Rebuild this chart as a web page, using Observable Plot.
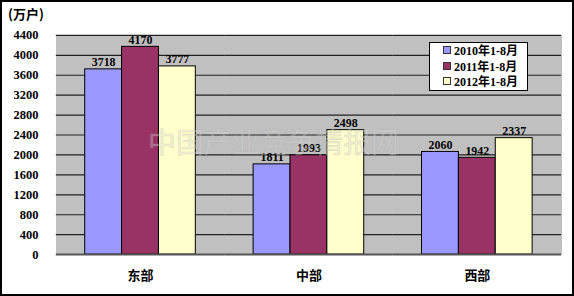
<!DOCTYPE html>
<html><head><meta charset="utf-8">
<script src="https://cdn.jsdelivr.net/npm/d3@7"></script>
<script src="https://cdn.jsdelivr.net/npm/@observablehq/plot@0.6"></script>
<style>
html,body{margin:0;padding:0;background:#fff;}
#wrap{position:relative;width:574px;height:296px;box-sizing:border-box;border:2px solid #000;overflow:hidden;}
#chart{position:absolute;left:-2px;top:-2px;}
#unit{position:absolute;left:6px;top:2px;font:bold 13px "Noto Sans CJK SC",sans-serif;color:#000;}
#legend{position:absolute;left:427px;top:40px;width:99px;height:49px;background:#fff;border:1px solid #000;box-sizing:border-box;padding:1px 0 0 13px;font:bold 12px "Liberation Serif","Noto Sans CJK SC",serif;}
#legend div{height:15.5px;line-height:15.5px;white-space:nowrap;}
#legend span{display:inline-block;width:6px;height:6px;border:1px solid #333;margin-right:3px;vertical-align:1px;}
</style></head>
<body>
<div id="wrap"><div id="chart"></div><div id="unit">(万户)</div><div id="legend"></div></div>
<script>
const regions = ["东部", "中部", "西部"];
const seriesNames = ["2010年1-8月", "2011年1-8月", "2012年1-8月"];
const v2010 = [3718, 1811, 2060];
const v2011 = [4170, 1993, 1942];
const v2012 = [3777, 2498, 2337];
const colors = ["#9999FF", "#993366", "#FFFFCC"];
const yTicks = [0, 400, 800, 1200, 1600, 2000, 2400, 2800, 3200, 3600, 4000, 4400];
const watermark = "中国产业竞争情报网";

const seriesVals = [v2010, v2011, v2012];
const data = [];
regions.forEach((r, i) => seriesNames.forEach((s, j) => data.push({region: r, series: s, value: seriesVals[j][i]})));

const numFont = "Liberation Serif";
const chart = Plot.plot({
  width: 574, height: 296,
  marginLeft: 55, marginRight: 11, marginTop: 35, marginBottom: 41,
  style: {background: "transparent", fontFamily: numFont},
  fx: {domain: regions, padding: 0, label: null, axis: null},
  x: {domain: seriesNames, paddingOuter: 0.74, paddingInner: 0, axis: null},
  y: {domain: [0, 4400], ticks: yTicks, label: null, axis: null},
  color: {domain: seriesNames, range: colors},
  marks: [
    Plot.frame({fill: "#C0C0C0", stroke: null, shapeRendering: "crispEdges"}),
    Plot.ruleY(yTicks.filter(t => t > 0), {stroke: "#222", strokeWidth: 1.2}),
    Plot.barY(data, {fx: "region", x: "series", y: "value", fill: "series", stroke: "#000", strokeWidth: 1}),
    Plot.text(data, {fx: "region", x: "series", y: "value", text: d => String(d.value), dy: -7, fontWeight: "bold", fontSize: 12, fill: "#000"}),
    Plot.text(regions, {fx: d => d, frameAnchor: "bottom", dy: 25, text: d => d, fontWeight: "bold", fontSize: 13, fontFamily: "Noto Sans CJK SC", fill: "#000"}),
    Plot.axisY({ticks: yTicks, tickFormat: d => String(d), tickSize: 0, tickPadding: 18, fontWeight: "bold", fontSize: 12.5, fill: "#000", facetAnchor: "left", line: true, stroke: "#444", strokeWidth: 1.5}),
    Plot.axisY({anchor: "right", ticks: [], facetAnchor: "right", line: true, stroke: "#8a8a8a", strokeWidth: 1.5}),
    Plot.ruleY([0], {stroke: "#555", strokeWidth: 2}),
    Plot.text([watermark], {fx: () => "东部", frameAnchor: "top-left", dx: 92, dy: 98, text: d => d, textAnchor: "start", fontSize: 28, fill: "#d8d8d8", stroke: "#a0a0a0", strokeWidth: 0.6, fillOpacity: 0.35, strokeOpacity: 0.4, fontFamily: "Noto Sans CJK SC"})
  ]
});
document.getElementById("chart").appendChild(chart);
const lg = document.getElementById("legend");
seriesNames.forEach((s, i) => {
  const d = document.createElement("div");
  d.innerHTML = `<span style="background:${colors[i]}"></span>${s}`;
  lg.appendChild(d);
});
</script>
</body></html>
